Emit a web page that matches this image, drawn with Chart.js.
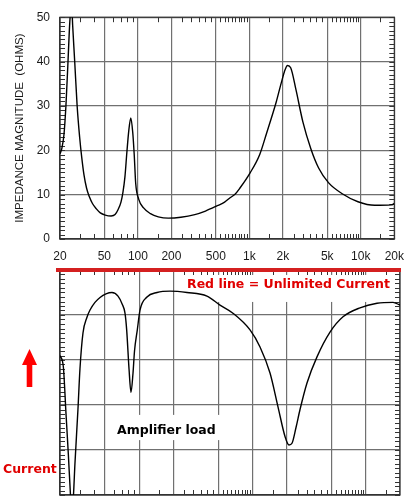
<!DOCTYPE html>
<html><head><meta charset="utf-8">
<script src="https://cdn.jsdelivr.net/npm/chart.js@4.4.1/dist/chart.umd.min.js"></script>
<style>
html,body{margin:0;padding:0;background:#fff;}
body{width:414px;height:503px;position:relative;overflow:hidden;font-family:"DejaVu Sans",sans-serif;}
#w1{position:absolute;left:0;top:0;width:414px;height:266px;}
#w2{position:absolute;left:0;top:262px;width:414px;height:241px;}
.lbl{position:absolute;font:bold 12.5px "DejaVu Sans",sans-serif;line-height:15px;white-space:nowrap;}
</style></head><body>
<div id="w1"><canvas id="c1"></canvas></div>
<div id="w2"><canvas id="c2"></canvas></div>
<div class="lbl" style="left:187px;top:276px;color:#e00000">Red line = Unlimited Current</div>
<div class="lbl" style="left:117px;top:422px;color:#000">Amplifier load</div>
<div class="lbl" style="left:3px;top:461px;color:#e00000">Current</div>
<svg style="position:absolute;left:22px;top:349px" width="15" height="39"><polygon points="7.5,0 15,16 10.3,16 10.3,38 4.7,38 4.7,16 0,16" fill="#f00"/></svg>
<script>
const freqTicks = [20,50,100,200,500,1000,2000,5000,10000,20000];
const freqTickLabels = ['20','50','100','200','500','1k','2k','5k','10k','20k'];
const freqMinor = [30,40,60,70,80,90,150,250,300,350,400,450,550,600,650,700,750,800,850,900,950,1500,2500,3000,3500,4000,4500,5500,6000,6500,7000,7500,8000,8500,9000,9500,15000];
const impedanceTicks = [0,10,20,30,40,50];
const impedanceFreq = [20,20.8,21.7,22.6,23.5,24.5,25.4,26.0,27.1,28.5,30.0,31.3,32.8,34.6,36.7,39.1,42.4,46.0,50.9,57.5,62.4,66.3,70.5,73.4,76.5,79.6,82.9,86.4,89.9,92.7,95.6,101.6,112.5,129.7,152.5,187,243,324,404,516,600,672,744,824,1010,1237,1426,1748,1934,2097,2200,2350,2623,3023,3557,4185,5127,6817,9434,13320,18800,20000];
const impedanceOhms = [19.2,20.5,23.5,30,39,49,53,48,40,30,23,18.5,14.5,11.5,9.5,8.0,6.8,5.9,5.4,5.2,5.5,6.6,8.3,10.5,14,19.5,24.5,27.3,24,19,12.5,9.0,7.0,5.7,5.0,4.7,4.9,5.5,6.3,7.5,8.3,9.3,10.1,11.5,14.8,19.0,23.8,31,35.2,38.2,39.1,38.6,33.6,26.4,20.4,16,12.7,10.2,8.4,7.6,7.7,8.0];
const loadTicks = [0,1,2,3,4,5];
const loadFreq = [20,21.4,22.6,23.7,24.75,25.5,26.3,27.1,28.8,30.0,31.9,34.6,36.8,40.7,45.1,50.9,57.5,65.0,70.5,74.9,77.5,81.3,84.6,88.1,90.9,96.2,101.6,117.1,143.6,187,264,396,516,672,950,1164,1426,1677,1934,2097,2229,2418,2623,3023,3704,4825,6284,8875,12540,17350,20000];
const loadCurrent = [3.1,2.85,1.8,0.9,0.0,-0.4,0.0,0.7,1.9,2.8,3.6,3.95,4.11,4.28,4.39,4.47,4.5,4.42,4.25,4.04,3.67,2.8,2.28,2.7,3.2,3.67,4.11,4.4,4.5,4.53,4.5,4.42,4.22,4.04,3.67,3.29,2.71,1.96,1.3,1.11,1.15,1.5,1.9,2.49,3.07,3.62,3.96,4.16,4.26,4.28,4.22];

const tickFont = {family:'"Liberation Sans", Arial, sans-serif', size:12};
const gridStyle = {color:'#707070', lineWidth:1.2, drawTicks:false};
const borderStyle = {color:'#333', width:1.2};

const decorPlugin = {
  id:'decor',
  beforeDatasetsDraw(chart, args, opts) {
    const {ctx, chartArea:a, scales:{x, y}} = chart;
    ctx.save();
    (opts.boxes || []).forEach(b => {
      const x0 = x.getPixelForValue(b.f0), x1 = x.getPixelForValue(b.f1);
      const y0 = y.getPixelForValue(b.v1), y1 = y.getPixelForValue(b.v0);
      ctx.fillStyle = '#fff';
      ctx.fillRect(x0, y0, x1 - x0, y1 - y0);
    });
    ctx.strokeStyle = '#333'; ctx.lineWidth = 1;
    ctx.beginPath();
    freqMinor.forEach(f => {
      const px = Math.round(x.getPixelForValue(f)) + 0.5;
      ctx.moveTo(px, a.top); ctx.lineTo(px, a.top + 5);
      ctx.moveTo(px, a.bottom); ctx.lineTo(px, a.bottom - 5);
    });
    const n = Math.round((y.max - y.min) / opts.yStep);
    for (let i = 0; i <= n; i++) {
      const py = Math.round(y.getPixelForValue(y.min + i * opts.yStep)) + 0.5;
      ctx.moveTo(a.left, py); ctx.lineTo(a.left + 5, py);
      ctx.moveTo(a.right, py); ctx.lineTo(a.right - 5, py);
    }
    ctx.stroke();
    ctx.lineWidth = 1.2;
    ctx.strokeRect(a.left, a.top, a.right - a.left, a.bottom - a.top);
    ctx.restore();
  },
  afterDraw(chart, args, opts) {
    if (!opts.redLine) return;
    const {ctx, chartArea:a} = chart;
    ctx.save();
    ctx.strokeStyle = '#d42020'; ctx.lineWidth = 4;
    ctx.beginPath(); ctx.moveTo(a.left - 4, a.top); ctx.lineTo(a.right + 1, a.top); ctx.stroke();
    ctx.restore();
  }
};

function xAxis(showLabels, h) {
  return {
    type:'logarithmic', min:20, max:20000,
    afterBuildTicks: ax => { ax.ticks = freqTicks.map(v => ({value:v})); },
    afterFit: ax => { ax.height = h; },
    grid: gridStyle, border: borderStyle,
    ticks: {display:showLabels, autoSkip:false, maxRotation:0, minRotation:0, padding:10, color:'#1a1a1a', font:tickFont,
      callback: (v, i) => freqTickLabels[i]}
  };
}

new Chart(document.getElementById('c1'), {
  type:'line',
  data:{datasets:[{data: impedanceFreq.map((f, i) => ({x:f, y:impedanceOhms[i]})), borderColor:'#000', borderWidth:1.4, pointRadius:0, cubicInterpolationMode:'monotone', fill:false}]},
  options:{
    responsive:true, maintainAspectRatio:false, animation:false,
    layout:{padding:{left:0, right:14, top:14, bottom:0}},
    plugins:{legend:{display:false}, tooltip:{enabled:false}, decor:{yStep:1}},
    scales:{
      x: xAxis(true, 27),
      y: {min:0, max:50,
        afterBuildTicks: ax => { ax.ticks = impedanceTicks.map(v => ({value:v})); },
        afterFit: ax => { ax.width = 60; },
        grid: gridStyle, border: borderStyle,
        ticks:{padding:10, color:'#1a1a1a', font:tickFont},
        title:{display:true, text:'IMPEDANCE MAGNITUDE  (OHMS)', color:'#1a1a1a', padding:{top:13, bottom:0}, font:{family:'"Liberation Sans", Arial, sans-serif', size:11.5}}
      }
    }
  },
  plugins:[decorPlugin]
});

new Chart(document.getElementById('c2'), {
  type:'line',
  data:{datasets:[{data: loadFreq.map((f, i) => ({x:f, y:loadCurrent[i]})), borderColor:'#000', borderWidth:1.4, pointRadius:0, cubicInterpolationMode:'monotone', fill:false}]},
  options:{
    responsive:true, maintainAspectRatio:false, animation:false,
    layout:{padding:{left:0, right:14, top:8, bottom:0}},
    plugins:{legend:{display:false}, tooltip:{enabled:false},
      decor:{yStep:0.1, redLine:true, boxes:[{f0:252, f1:18800, v0:4.29, v1:4.89}, {f0:61, f1:527, v0:1.22, v1:1.78}]}},
    scales:{
      x: xAxis(false, 8),
      y: {min:0, max:5,
        afterBuildTicks: ax => { ax.ticks = loadTicks.map(v => ({value:v})); },
        afterFit: ax => { ax.width = 60; },
        grid: gridStyle, border: borderStyle,
        ticks:{display:false}
      }
    }
  },
  plugins:[decorPlugin]
});
</script>
</body></html>
